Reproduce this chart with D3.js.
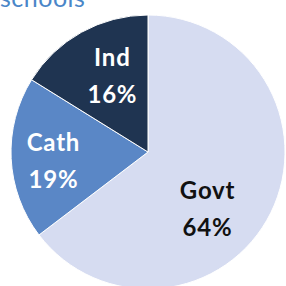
<!DOCTYPE html>
<html>
<head>
<meta charset="utf-8">
<script src="https://cdn.jsdelivr.net/npm/d3@7"></script>
<style>
  body { margin: 0; background: #fff; }
  svg { display: block; }
</style>
</head>
<body>
<svg id="chart" width="286" height="286"></svg>
<script>
// data
const categories = ["Govt", "Cath", "Ind"];
const shares = [64, 19, 16];
const titleText = "schools";

const width = 286, height = 286;
const radius = 137;
const cx = 148, cy = 152;

const svg = d3.select("#chart");

const color = d3.scaleOrdinal()
  .domain(categories)
  .range(["#d6dcf1", "#5a87c6", "#1f3451"]);

const textColor = d3.scaleOrdinal()
  .domain(categories)
  .range(["#111111", "#ffffff", "#ffffff"]);

// title is cut off at the top in the original
svg.append("text")
  .attr("x", 0)
  .attr("y", 7)
  .attr("font-family", "Lato, sans-serif")
  .attr("font-size", "25px")
  .attr("letter-spacing", "0.5px")
  .attr("fill", "#4a86c8")
  .text(titleText);

const pieData = d3.pie()
  .sort(null)
  .value(d => d.value)(categories.map((c, i) => ({ key: c, value: shares[i] })));

const arc = d3.arc().innerRadius(0).outerRadius(radius);

const g = svg.append("g")
  .attr("transform", "translate(" + cx + "," + cy + ")");

g.selectAll("path.slice")
  .data(pieData)
  .join("path")
  .attr("class", "slice")
  .attr("d", arc)
  .attr("fill", d => color(d.data.key))
  .attr("stroke", "#ffffff")
  .attr("stroke-width", 1);

// label placement, a bit like excel does it
const labelArc = d3.arc().innerRadius(radius * 0.64).outerRadius(radius * 0.64);
const nudge = { Govt: [-19, 14], Cath: [-7, 1], Ind: [7, -3] };

const labels = g.selectAll("g.label")
  .data(pieData)
  .join("g")
  .attr("class", "label")
  .attr("transform", d => {
    const c = labelArc.centroid(d);
    const n = nudge[d.data.key];
    return "translate(" + (c[0] + n[0]) + "," + (c[1] + n[1]) + ")";
  });

labels.append("text")
  .attr("text-anchor", "middle")
  .attr("y", -6)
  .attr("font-family", "Lato, sans-serif")
  .attr("font-size", "24px")
  .attr("font-weight", "bold")
  .attr("letter-spacing", "0.8px")
  .attr("fill", d => textColor(d.data.key))
  .text(d => d.data.key);

labels.append("text")
  .attr("text-anchor", "middle")
  .attr("y", 31)
  .attr("font-family", "Lato, sans-serif")
  .attr("font-size", "24px")
  .attr("font-weight", "bold")
  .attr("letter-spacing", "0.8px")
  .attr("fill", d => textColor(d.data.key))
  .text(d => d.data.value + "%");
</script>
</body>
</html>
